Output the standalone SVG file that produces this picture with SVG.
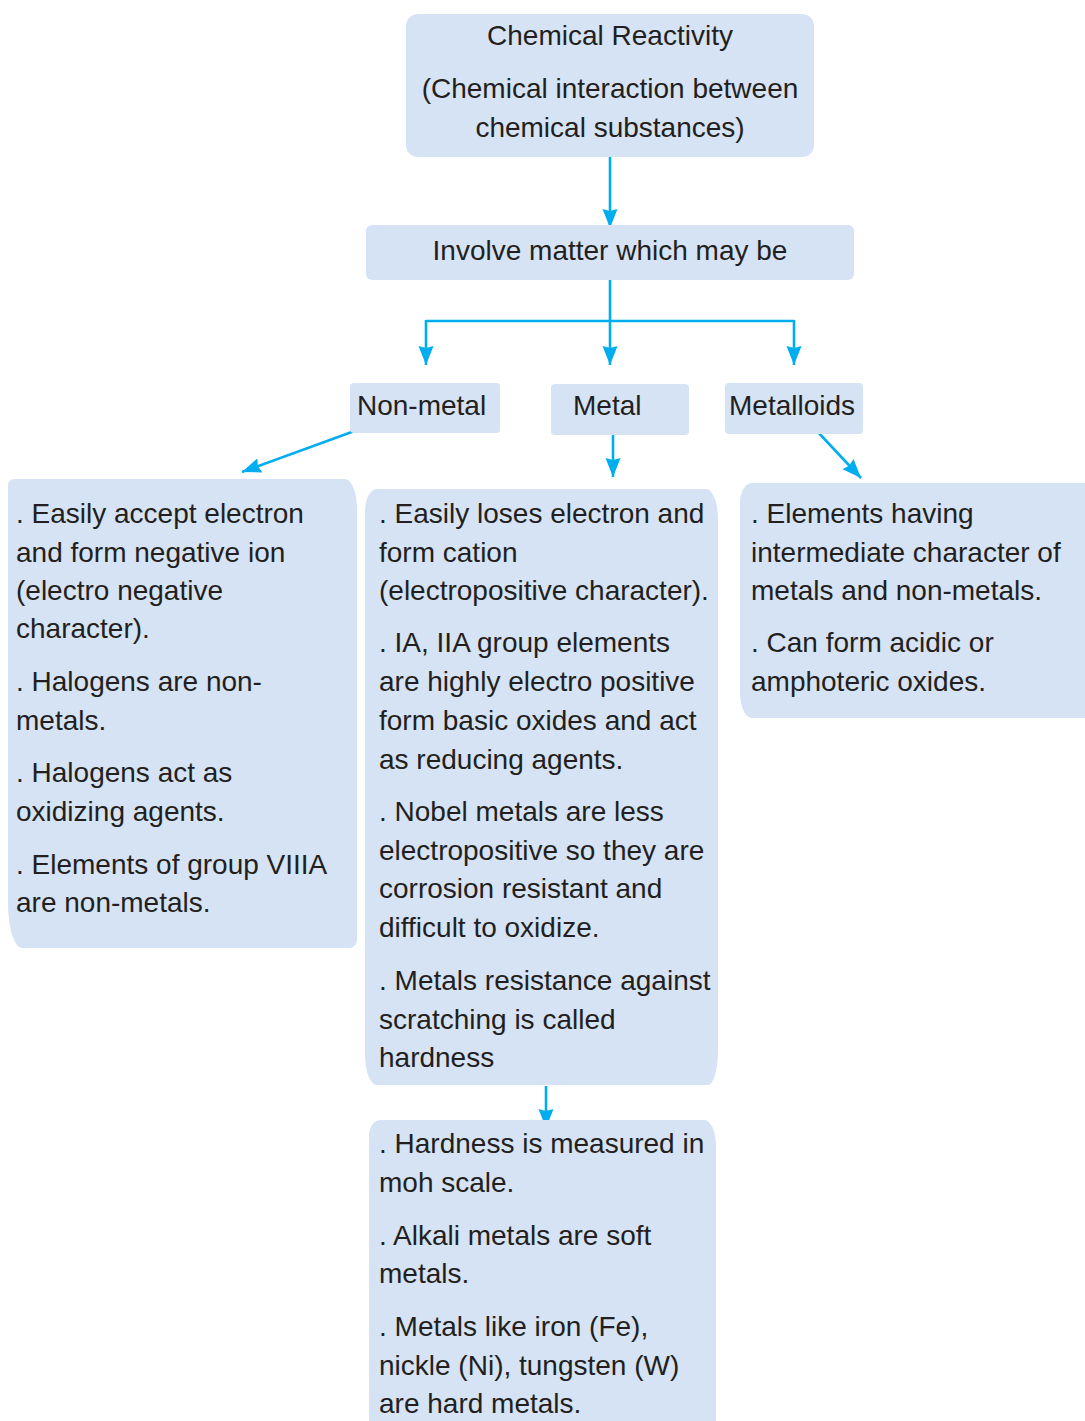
<svg xmlns="http://www.w3.org/2000/svg" width="1085" height="1421" viewBox="0 0 1085 1421">
<style>
.box{fill:#d5e3f4;}
text{font-family:"Liberation Sans",Arial,sans-serif;font-size:28px;fill:#231f20;}
.c{text-anchor:middle;}
.conn{stroke:#00aeef;stroke-width:2.6;fill:none;}
</style>
<defs>
<marker id="ah" markerUnits="userSpaceOnUse" markerWidth="22" markerHeight="18" viewBox="0 -9 22 18" refX="19" refY="0" orient="auto">
<path d="M0,-7.5 L19,0 L0,7.5 L2,0 Z" fill="#00aeef"/>
</marker>
</defs>
<rect width="1085" height="1421" fill="#ffffff"/>
<g id="connectors">
<path class="conn" d="M610,149 V228" marker-end="url(#ah)"/>
<path class="conn" d="M610,280 V365" marker-end="url(#ah)"/>
<path class="conn" d="M426,321 H794"/>
<path class="conn" d="M426,320 V365" marker-end="url(#ah)"/>
<path class="conn" d="M794,320 V365" marker-end="url(#ah)"/>
<path class="conn" d="M360,429 L242,472" marker-end="url(#ah)"/>
<path class="conn" d="M613,430 V477" marker-end="url(#ah)"/>
<path class="conn" d="M816,430 L861,478" marker-end="url(#ah)"/>
<path class="conn" d="M546,1086 V1128" marker-end="url(#ah)"/>
</g>
<g id="chemical-reactivity">
<rect class="box" x="406" y="14" width="408" height="143" rx="12"/>
<text class="c" x="610" y="45">Chemical Reactivity</text>
<text class="c" x="610" y="98">(Chemical interaction between</text>
<text class="c" x="610" y="137">chemical substances)</text>
</g>
<g id="involve-matter">
<rect class="box" x="366" y="225" width="488" height="55" rx="6"/>
<text class="c" x="610" y="260">Involve matter which may be</text>
</g>
<g id="non-metal">
<rect class="box" x="350" y="383" width="150" height="50" rx="4"/>
<text x="357" y="415">Non-metal</text>
</g>
<g id="metal">
<rect class="box" x="551" y="384" width="138" height="51" rx="4"/>
<text x="573" y="415">Metal</text>
</g>
<g id="metalloids">
<rect class="box" x="725" y="383" width="138" height="51" rx="4"/>
<text x="729" y="415">Metalloids</text>
</g>
<g id="non-metal-details">
<path class="box" d="M14,479 H345 A12 30 0 0 1 357,509 V940 A8 8 0 0 1 349,948 H22 A14 45 0 0 1 8,903 V485 A6 6 0 0 1 14,479 Z"/>
<text x="16" y="523">. Easily accept electron</text>
<text x="16" y="562">and form negative ion</text>
<text x="16" y="600">(electro negative</text>
<text x="16" y="638">character).</text>
<text x="16" y="691">. Halogens are non-</text>
<text x="16" y="730">metals.</text>
<text x="16" y="782">. Halogens act as</text>
<text x="16" y="821">oxidizing agents.</text>
<text x="16" y="874">. Elements of group VIIIA</text>
<text x="16" y="912">are non-metals.</text>
</g>
<g id="metal-details">
<path class="box" d="M377,489 H706 A12 30 0 0 1 718,519 V1050 A10 35 0 0 1 708,1085 H377 A12 30 0 0 1 365,1055 V511 A12 22 0 0 1 377,489 Z"/>
<text x="379" y="523">. Easily loses electron and</text>
<text x="379" y="562">form cation</text>
<text x="379" y="600">(electropositive character).</text>
<text x="379" y="652">. IA, IIA group elements</text>
<text x="379" y="691">are highly electro positive</text>
<text x="379" y="730">form basic oxides and act</text>
<text x="379" y="769">as reducing agents.</text>
<text x="379" y="821">. Nobel metals are less</text>
<text x="379" y="860">electropositive so they are</text>
<text x="379" y="898">corrosion resistant and</text>
<text x="379" y="937">difficult to oxidize.</text>
<text x="379" y="990">. Metals resistance against</text>
<text x="379" y="1029">scratching is called</text>
<text x="379" y="1067">hardness</text>
</g>
<g id="metalloid-details">
<path class="box" d="M752,483 H1090 V718 H752 A12 25 0 0 1 740,693 V503 A12 20 0 0 1 752,483 Z"/>
<text x="751" y="523">. Elements having</text>
<text x="751" y="562">intermediate character of</text>
<text x="751" y="600">metals and non-metals.</text>
<text x="751" y="652">. Can form acidic or</text>
<text x="751" y="691">amphoteric oxides.</text>
</g>
<g id="hardness-details">
<path class="box" d="M381,1120 H704 A12 25 0 0 1 716,1145 V1430 H369 V1135 A12 15 0 0 1 381,1120 Z"/>
<text x="379" y="1153">. Hardness is measured in</text>
<text x="379" y="1192">moh scale.</text>
<text x="379" y="1245">. Alkali metals are soft</text>
<text x="379" y="1283">metals.</text>
<text x="379" y="1336">. Metals like iron (Fe),</text>
<text x="379" y="1375">nickle (Ni), tungsten (W)</text>
<text x="379" y="1413">are hard metals.</text>
</g>
</svg>
